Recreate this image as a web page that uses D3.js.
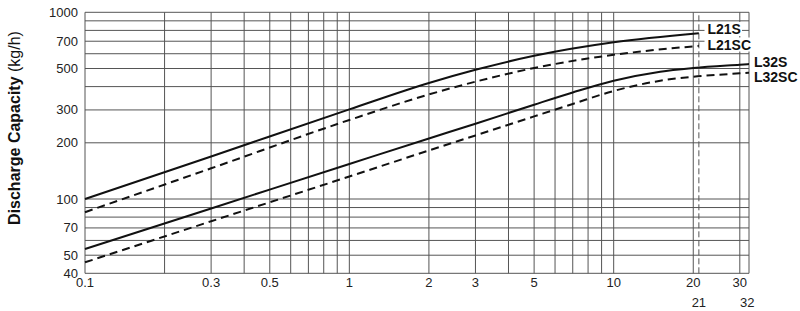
<!DOCTYPE html>
<html>
<head>
<meta charset="utf-8">
<script src="https://cdn.jsdelivr.net/npm/d3@7"></script>
<style>
  body { margin: 0; background: #fff; }
  svg { display: block; font-family: "Liberation Sans", Arial, Helvetica, sans-serif; }
</style>
</head>
<body>
<div id="chart"></div>
<script>
// pressure (x) grid / ticks
var xGrid = [0.1, 0.2, 0.3, 0.4, 0.5, 0.6, 0.7, 0.8, 0.9, 1, 2, 3, 4, 5, 6, 7, 8, 9, 10, 20, 30, 32.5];
var xTicks = [0.1, 0.3, 0.5, 1, 2, 3, 5, 10, 20, 30];
var xTicks2 = [21, 32];
var yGrid = [40, 50, 60, 70, 80, 90, 100, 200, 300, 400, 500, 600, 700, 800, 900, 1000];
var yTicks = [40, 50, 70, 100, 200, 300, 500, 700, 1000];

// curves
var x21 = [0.1, 0.3, 1, 2, 3, 5, 10, 21];
var l21s = [100, 169, 302, 418, 492, 585, 691, 773];
var l21sc = [85, 146, 265, 363, 425, 503, 592, 661];
var x32 = [0.1, 0.3, 1, 2, 3, 5, 7, 10, 15, 20, 30, 32.5];
var l32s = [54, 89, 154, 211, 253, 320, 372, 430, 481, 503, 524, 528];
var l32sc = [45.8, 76, 132, 182, 219, 277, 323, 379, 430, 452, 471, 475];

var seriesNames = ["L21S", "L21SC", "L32S", "L32SC"];

var svgWidth = 800;
var svgHeight = 311;

var svg = d3.select("#chart")
  .append("svg")
  .attr("width", svgWidth)
  .attr("height", svgHeight);

var xScale = d3.scaleLog()
  .domain([0.1, 32.5])
  .range([85, 749]);

var yScale = d3.scaleLog()
  .domain([40, 1000])
  .range([273.3, 12.3]);

// grid
svg.append("g").selectAll("line")
  .data(yGrid)
  .enter()
  .append("line")
  .attr("x1", xScale(0.1))
  .attr("x2", xScale(32.5))
  .attr("y1", function(d) { return yScale(d); })
  .attr("y2", function(d) { return yScale(d); })
  .attr("stroke", "#555")
  .attr("stroke-width", 1);

svg.append("g").selectAll("line")
  .data(xGrid)
  .enter()
  .append("line")
  .attr("x1", function(d) { return xScale(d); })
  .attr("x2", function(d) { return xScale(d); })
  .attr("y1", yScale(40))
  .attr("y2", yScale(1000))
  .attr("stroke", "#555")
  .attr("stroke-width", 1);

// 21 marker
svg.append("line")
  .attr("x1", xScale(21))
  .attr("x2", xScale(21))
  .attr("y1", yScale(40))
  .attr("y2", yScale(1000))
  .attr("stroke", "#555")
  .attr("stroke-width", 1)
  .attr("stroke-dasharray", "6,3");

// curves
var line = d3.line()
  .x(function(d) { return xScale(d[0]); })
  .y(function(d) { return yScale(d[1]); })
  .curve(d3.curveMonotoneX);

var curves = [
  {x: x21, y: l21s, dash: null},
  {x: x21, y: l21sc, dash: "8,5"},
  {x: x32, y: l32s, dash: null},
  {x: x32, y: l32sc, dash: "8,5"}
];

svg.append("g").selectAll("path")
  .data(curves)
  .enter()
  .append("path")
  .attr("d", function(c) { return line(d3.zip(c.x, c.y)); })
  .attr("fill", "none")
  .attr("stroke", "#111")
  .attr("stroke-width", 2)
  .attr("stroke-dasharray", function(c) { return c.dash; });

// series labels with white backing
var labelPos = [[707.5, 34], [707.5, 49.5], [754, 66.5], [754, 82]];
var labels = svg.append("g");
seriesNames.forEach(function(name, i) {
  var t = labels.append("text")
    .attr("x", labelPos[i][0])
    .attr("y", labelPos[i][1])
    .attr("font-size", "14px")
    .attr("font-weight", "bold")
    .attr("fill", "#111")
    .text(name);
  var b = t.node().getBBox();
  labels.insert("rect", "text")
    .attr("x", b.x - 3)
    .attr("y", b.y + 1)
    .attr("width", b.width + 4)
    .attr("height", b.height - 2)
    .attr("fill", "#fff");
});

// y tick labels
svg.append("g").selectAll("text")
  .data(yTicks)
  .enter()
  .append("text")
  .attr("x", 78)
  .attr("y", function(d) { return yScale(d); })
  .attr("dy", "0.35em")
  .attr("text-anchor", "end")
  .attr("font-size", "13px")
  .attr("fill", "#222")
  .text(function(d) { return d; });

// x tick labels
svg.append("g").selectAll("text")
  .data(xTicks)
  .enter()
  .append("text")
  .attr("x", function(d) { return xScale(d); })
  .attr("y", 286.5)
  .attr("text-anchor", "middle")
  .attr("font-size", "13px")
  .attr("fill", "#222")
  .text(function(d) { return d; });

svg.append("g").selectAll("text")
  .data(xTicks2)
  .enter()
  .append("text")
  .attr("x", function(d) { return xScale(d); })
  .attr("y", 306.5)
  .attr("text-anchor", "middle")
  .attr("font-size", "13px")
  .attr("fill", "#222")
  .text(function(d) { return d; });

// y axis title
var title = svg.append("text")
  .attr("transform", "translate(20,128) rotate(-90)")
  .attr("text-anchor", "middle")
  .attr("font-size", "16px")
  .attr("fill", "#111");
title.append("tspan")
  .attr("font-weight", "bold")
  .text("Discharge Capacity ");
title.append("tspan")
  .text("(kg/h)");
</script>
</body>
</html>
